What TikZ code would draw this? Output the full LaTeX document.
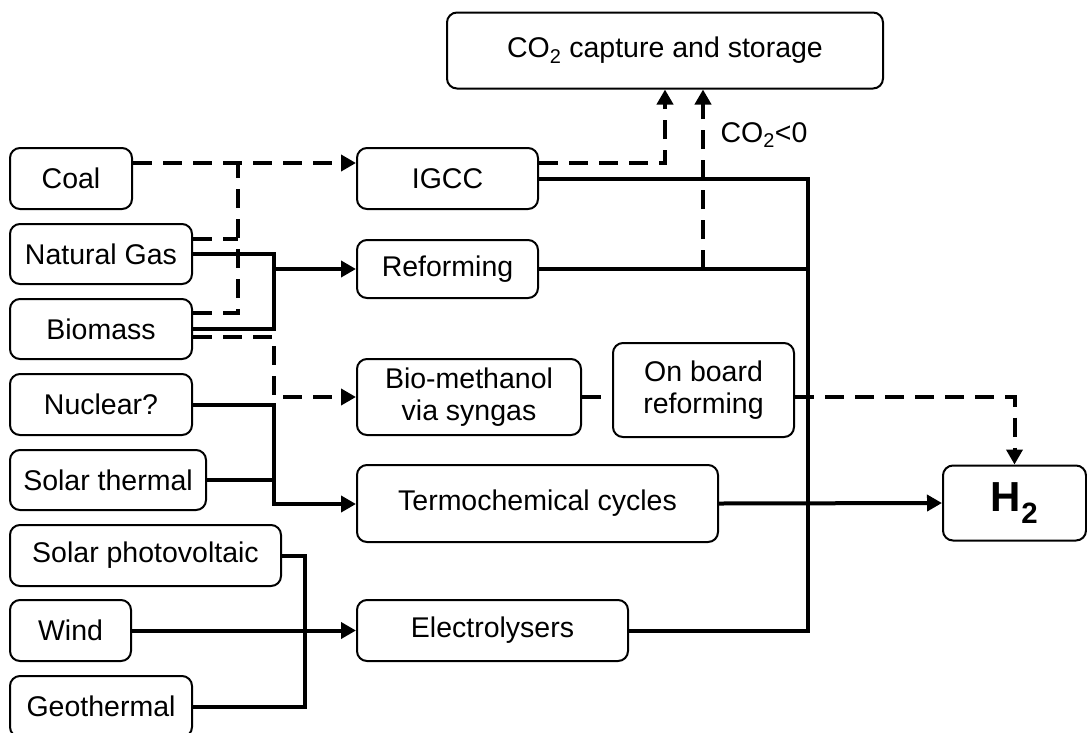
\documentclass[tikz,border=0pt]{standalone}
\usepackage{fontspec}
\setmainfont{Liberation Sans}
\usetikzlibrary{arrows.meta}
\begin{document}
\begin{tikzpicture}[x=1pt,y=-1pt,
  box/.style={draw,rounded corners=10pt,line width=2pt,inner sep=0pt,align=center,
    font=\fontsize{28.5}{32}\selectfont},
  sol/.style={line width=4pt},
  dsh/.style={line width=4pt,dash pattern=on 19pt off 11pt},
  arr/.style={-{Triangle[length=15pt,width=16pt]}}]
\useasboundingbox (0,0) rectangle (1087,732);
% sources
\node[box,minimum width=122pt,minimum height=61pt] (coal) at (71,178.5) {Coal};
\node[box,minimum width=182pt,minimum height=60pt] (ng) at (101,254) {Natural Gas};
\node[box,minimum width=182pt,minimum height=60pt] (bio) at (101,329) {Biomass};
\node[box,minimum width=182pt,minimum height=61pt] (nuc) at (101,404.5) {Nuclear?};
\node[box,minimum width=196pt,minimum height=60pt] (st) at (108,480) {Solar thermal};
\node[box,minimum width=271pt,minimum height=61pt] (pv) at (145.5,555.5) {Solar photovoltaic};
\node[box,minimum width=121pt,minimum height=61pt] (wind) at (70.5,630.5) {Wind};
\node[box,minimum width=182pt,minimum height=61pt] (geo) at (101,706.5) {Geothermal};
% processes
\node[box,minimum width=181pt,minimum height=61pt] (igcc) at (447.5,178.5) {IGCC};
\node[box,minimum width=181pt,minimum height=58pt] (ref) at (447.5,269) {Reforming};
\node[box,minimum width=224pt,minimum height=76pt] (bm) at (469,397) {Bio-methanol\\via syngas};
\node[box,minimum width=181pt,minimum height=94pt] (ob) at (703.5,390) {On board\\reforming};
\node[box,minimum width=361pt,minimum height=77pt] (tc) at (537.5,503.5) {Termochemical cycles};
\node[box,minimum width=271pt,minimum height=61pt] (el) at (492.5,630.5) {Electrolysers};
\node[box,minimum width=436pt,minimum height=76pt] (ccs) at (665,50.5) {CO\textsubscript{2} capture and storage};
\node[box,minimum width=143pt,minimum height=75pt,font=\fontsize{42}{44}\selectfont\bfseries] (h2) at (1014.5,503) {H\textsubscript{2}};
\node[font=\fontsize{28.5}{32}\selectfont,inner sep=0pt] (lbl) at (764,135) {CO\textsubscript{2}<0};
% junction coordinates
\coordinate (j1) at (238,163);
\coordinate (j2) at (274,254);
\coordinate (j4) at (274,397);
\coordinate (j5) at (274,504);
\coordinate (j6) at (305,706.5);
\coordinate (jx) at (808,630.5);
\coordinate (c2) at (703,269);
% fossil / biomass to IGCC
\draw[dsh,arr] ([yshift=15.5pt]coal.east) -- ([yshift=15.5pt]igcc.west);
\draw[dsh] ([yshift=15pt]ng.east) -- ([yshift=15pt]ng.east -| j1);
\draw[dsh] ([yshift=16pt]bio.east) -| (j1);
% to reforming
\draw[sol] (ng.east) -| (j2) |- (bio.east);
\draw[sol,arr] (ref.west -| j2) -- (ref.west);
% biomass to bio-methanol
\draw[dsh,arr] ([yshift=-8pt]bio.east) -| (j4) -- (bm.west);
% nuclear / solar thermal
\draw[sol,arr] (nuc.east) -| (j5) -- (tc.west |- j5);
\draw[sol] (st.east) -- (st.east -| j5);
% electricity
\draw[sol] (pv.east) -| (j6) -- (geo.east);
\draw[sol,arr] (wind.east) -- (el.west);
% outputs
\draw[dsh,arr] ([yshift=15.5pt]igcc.east) -| (ccs.south);
\draw[sol] (igcc.east) -| (jx) -- (el.east);
\draw[sol] (ref.east) -- (ref.east -| jx);
\draw[dsh,arr] (c2) -- (c2 |- ccs.south);
\draw[dsh] (bm.east) -- (bm.east -| ob.west);
\draw[dsh,arr] (ob.east |- bm.east) -| (h2.north);
\draw[sol,arr] (tc.east) -- (h2.west);
\end{tikzpicture}
\end{document}
